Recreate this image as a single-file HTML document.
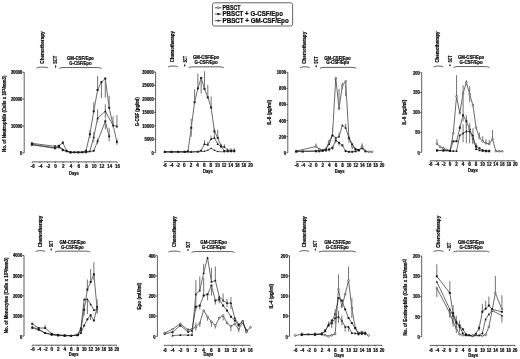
<!DOCTYPE html>
<html lang="en"><head><meta charset="utf-8"><title>Cytokine levels and cell counts after PBSCT</title>
<style>html,body{margin:0;padding:0;background:#fff}body{width:520px;height:359px;overflow:hidden}svg{display:block}.ax{fill:none;stroke:#1a1a1a;stroke-width:.7}.br{fill:none;stroke:#333;stroke-width:.8}.ln{fill:none;stroke:#1a1a1a;stroke-width:.65;stroke-linejoin:round}.eb{fill:none;stroke:#7a7a7a;stroke-width:1.05}text{fill:#0a0a0a;stroke:#0a0a0a;stroke-width:.22}</style></head><body>
<svg width="520" height="359" viewBox="0 0 520 359" font-family="Liberation Sans, sans-serif" font-weight="bold">
<rect width="520" height="359" fill="#fff"/>
<g id="legend">
<rect x="212.5" y="2.8" width="80.1" height="23.2" rx="2" fill="#fff" stroke="#666" stroke-width="1"/>
<path d="M214.9 7.75H221.4" class="ax"/>
<circle cx="218.3" cy="7.75" r="0.9" fill="#fff" stroke="#1a1a1a" stroke-width=".55"/>
<text x="222.5" y="10" font-size="6.3" text-anchor="start" textLength="18" lengthAdjust="spacingAndGlyphs">PBSCT</text>
<path d="M214.9 14.1H221.4" class="ax"/>
<rect x="217.3" y="13.1" width="2" height="2" fill="#1a1a1a"/>
<text x="222.5" y="16.35" font-size="6.3" text-anchor="start" textLength="60.4" lengthAdjust="spacingAndGlyphs">PBSCT + G-CSF/Epo</text>
<path d="M214.9 20.55H221.4" class="ax"/>
<path d="M218.3 19.3L219.5 21.55L217.1 21.55Z" fill="#1a1a1a"/>
<text x="222.5" y="22.8" font-size="6.3" text-anchor="start" textLength="66.2" lengthAdjust="spacingAndGlyphs">PBSCT + GM-CSF/Epo</text>
</g>
<g id="p1">
<path d="M24.2 72.3V152.8M22.7 72.3H24.2M22.7 99.1H24.2M22.7 126H24.2M22.7 152.8H24.2" class="ax"/>
<text x="22.4" y="74.2" font-size="4.6" text-anchor="end" textLength="11.5" lengthAdjust="spacingAndGlyphs">30000</text>
<text x="22.4" y="101" font-size="4.6" text-anchor="end" textLength="11.5" lengthAdjust="spacingAndGlyphs">20000</text>
<text x="22.4" y="127.9" font-size="4.6" text-anchor="end" textLength="11.5" lengthAdjust="spacingAndGlyphs">10000</text>
<text x="22.4" y="155.4" font-size="4.6" text-anchor="end" textLength="2.3" lengthAdjust="spacingAndGlyphs">0</text>
<path d="M32.2 161.9H117.2M32.2 161.9v1.1M39.93 161.9v1.1M47.65 161.9v1.1M55.38 161.9v1.1M63.11 161.9v1.1M70.84 161.9v1.1M78.56 161.9v1.1M86.29 161.9v1.1M94.02 161.9v1.1M101.75 161.9v1.1M109.47 161.9v1.1M117.2 161.9v1.1" class="ax"/>
<text x="32.7" y="167.7" font-size="4.6" text-anchor="middle" textLength="3.85" lengthAdjust="spacingAndGlyphs">-6</text>
<text x="40.43" y="167.7" font-size="4.6" text-anchor="middle" textLength="3.85" lengthAdjust="spacingAndGlyphs">-4</text>
<text x="48.15" y="167.7" font-size="4.6" text-anchor="middle" textLength="3.85" lengthAdjust="spacingAndGlyphs">-2</text>
<text x="55.58" y="167.7" font-size="4.6" text-anchor="middle">0</text>
<text x="63.31" y="167.7" font-size="4.6" text-anchor="middle">2</text>
<text x="71.04" y="167.7" font-size="4.6" text-anchor="middle">4</text>
<text x="78.76" y="167.7" font-size="4.6" text-anchor="middle">6</text>
<text x="86.49" y="167.7" font-size="4.6" text-anchor="middle">8</text>
<text x="94.22" y="167.7" font-size="4.6" text-anchor="middle" textLength="4.7" lengthAdjust="spacingAndGlyphs">10</text>
<text x="101.95" y="167.7" font-size="4.6" text-anchor="middle" textLength="4.7" lengthAdjust="spacingAndGlyphs">12</text>
<text x="109.67" y="167.7" font-size="4.6" text-anchor="middle" textLength="4.7" lengthAdjust="spacingAndGlyphs">14</text>
<text x="117.4" y="167.7" font-size="4.6" text-anchor="middle" textLength="4.7" lengthAdjust="spacingAndGlyphs">16</text>
<text x="74" y="174.9" font-size="4.6" text-anchor="middle" textLength="9.8" lengthAdjust="spacingAndGlyphs">Days</text>
<text x="6" y="152" font-size="4.6" text-anchor="start" transform="rotate(-90 6 152)" textLength="76.4" lengthAdjust="spacingAndGlyphs">No. of Neutrophils (Cells x 10<tspan dy="-0.9" font-size="3.9">3</tspan><tspan dy="0.9">/mm3</tspan>)</text>
<text x="44.05" y="63.7" font-size="4.6" text-anchor="start" transform="rotate(-90 44.05 63.7)" textLength="32.3" lengthAdjust="spacingAndGlyphs">Chemotherapy</text>
<path d="M36.5 68.05Q38.1 67.15 40.5 67.15H44.2Q46.6 67.15 48.2 68.05" class="br"/>
<text x="57.45" y="63.7" font-size="5.1" text-anchor="start" transform="rotate(-90 57.45 63.7)" textLength="7.7" lengthAdjust="spacingAndGlyphs">SCT</text>
<path d="M55.6 64.9V67.6" class="ax"/><path d="M54.7 66.4L55.6 67.9L56.5 66.4Z" fill="#1a1a1a"/>
<text x="66.9" y="59.5" font-size="4.6" text-anchor="start" textLength="26.9" lengthAdjust="spacingAndGlyphs">GM-CSF/Epo</text>
<text x="69.2" y="64.5" font-size="4.6" text-anchor="start" textLength="22.3" lengthAdjust="spacingAndGlyphs">G-CSF/Epo</text>
<path d="M59.2 68.45Q60.8 67.55 63.2 67.55H97.5Q99.9 67.55 101.5 68.45" class="br"/>
<path d="M31.9 143.3L55.08 146.3L58.95 145.8L62.81 142.7L66.67 150.8L70.54 152.3L74.4 152.3L78.26 152.3L82.13 152.3L85.99 150.8L89.85 134.3L93.72 111.3L97.58 90L101.45 82.1L105.31 78.5L109.17 107.8L116.9 141.8" class="ln"/>
<path d="M62.81 141.2V144.2M89.85 130.3V138.3M93.72 102.3V111.3M97.58 76V90M101.45 82.1V98.1M105.31 78.5V97.5M109.17 95.8V107.8M116.9 138.8V144.8" class="eb"/>
<rect x="30.9" y="142.3" width="2" height="2" fill="#1a1a1a"/>
<rect x="54.08" y="145.3" width="2" height="2" fill="#1a1a1a"/>
<rect x="57.95" y="144.8" width="2" height="2" fill="#1a1a1a"/>
<rect x="61.81" y="141.7" width="2" height="2" fill="#1a1a1a"/>
<rect x="65.67" y="149.8" width="2" height="2" fill="#1a1a1a"/>
<rect x="69.54" y="151.3" width="2" height="2" fill="#1a1a1a"/>
<rect x="73.4" y="151.3" width="2" height="2" fill="#1a1a1a"/>
<rect x="77.26" y="151.3" width="2" height="2" fill="#1a1a1a"/>
<rect x="81.13" y="151.3" width="2" height="2" fill="#1a1a1a"/>
<rect x="84.99" y="149.8" width="2" height="2" fill="#1a1a1a"/>
<rect x="88.85" y="133.3" width="2" height="2" fill="#1a1a1a"/>
<rect x="92.72" y="110.3" width="2" height="2" fill="#1a1a1a"/>
<rect x="96.58" y="89" width="2" height="2" fill="#1a1a1a"/>
<rect x="100.45" y="81.1" width="2" height="2" fill="#1a1a1a"/>
<rect x="104.31" y="77.5" width="2" height="2" fill="#1a1a1a"/>
<rect x="108.17" y="106.8" width="2" height="2" fill="#1a1a1a"/>
<rect x="115.9" y="140.8" width="2" height="2" fill="#1a1a1a"/>
<path d="M31.9 144.3L55.08 147.8L58.95 146.3L62.81 149.3L66.67 151.3L70.54 152.3L78.26 152.3L85.99 151.8L89.85 151.3L93.72 137.3L97.58 118.3L105.31 111.3L113.04 125.3L116.9 126.3" class="ln"/>
<path d="M55.08 146.3V149.3M93.72 132.3V142.3M97.58 109.3V122.3M105.31 104.3V118.3M113.04 116.3V127.3M116.9 115.3V128.3" class="eb"/>
<path d="M31.9 143.05L33.1 145.3L30.7 145.3Z" fill="#1a1a1a"/>
<path d="M55.08 146.55L56.28 148.8L53.88 148.8Z" fill="#1a1a1a"/>
<path d="M58.95 145.05L60.15 147.3L57.75 147.3Z" fill="#1a1a1a"/>
<path d="M62.81 148.05L64.01 150.3L61.61 150.3Z" fill="#1a1a1a"/>
<path d="M66.67 150.05L67.87 152.3L65.47 152.3Z" fill="#1a1a1a"/>
<path d="M70.54 151.05L71.74 153.3L69.34 153.3Z" fill="#1a1a1a"/>
<path d="M78.26 151.05L79.46 153.3L77.06 153.3Z" fill="#1a1a1a"/>
<path d="M85.99 150.55L87.19 152.8L84.79 152.8Z" fill="#1a1a1a"/>
<path d="M89.85 150.05L91.05 152.3L88.65 152.3Z" fill="#1a1a1a"/>
<path d="M93.72 136.05L94.92 138.3L92.52 138.3Z" fill="#1a1a1a"/>
<path d="M97.58 117.05L98.78 119.3L96.38 119.3Z" fill="#1a1a1a"/>
<path d="M105.31 110.05L106.51 112.3L104.11 112.3Z" fill="#1a1a1a"/>
<path d="M113.04 124.05L114.24 126.3L111.84 126.3Z" fill="#1a1a1a"/>
<path d="M116.9 125.05L118.1 127.3L115.7 127.3Z" fill="#1a1a1a"/>
<path d="M31.9 144.8L55.08 148.3L58.95 147.3L62.81 150.3L70.54 152.3L85.99 152.3L93.72 150.8L97.58 141.3L105.31 121.3L109.17 136.3" class="ln"/>
<path d="M97.58 138.3V144.3M105.31 119.3V129.3M109.17 128.3V141.3" class="eb"/>
<circle cx="31.9" cy="144.8" r="1.1" fill="#1a1a1a"/>
<circle cx="55.08" cy="148.3" r="1.1" fill="#1a1a1a"/>
<circle cx="58.95" cy="147.3" r="1.1" fill="#1a1a1a"/>
<circle cx="62.81" cy="150.3" r="1.1" fill="#1a1a1a"/>
<circle cx="70.54" cy="152.3" r="1.1" fill="#1a1a1a"/>
<circle cx="85.99" cy="152.3" r="1.1" fill="#1a1a1a"/>
<circle cx="93.72" cy="150.8" r="1.1" fill="#1a1a1a"/>
<circle cx="97.58" cy="141.3" r="1.1" fill="#1a1a1a"/>
<circle cx="105.31" cy="121.3" r="1.1" fill="#1a1a1a"/>
<circle cx="109.17" cy="136.3" r="1.1" fill="#1a1a1a"/>
</g>
<g id="p2">
<path d="M155.6 72V152.7M154.1 72H155.6M154.1 85.45H155.6M154.1 98.9H155.6M154.1 112.35H155.6M154.1 125.8H155.6M154.1 139.25H155.6M154.1 152.7H155.6" class="ax"/>
<text x="153.8" y="73.9" font-size="4.6" text-anchor="end" textLength="11.5" lengthAdjust="spacingAndGlyphs">30000</text>
<text x="153.8" y="87.35" font-size="4.6" text-anchor="end" textLength="11.5" lengthAdjust="spacingAndGlyphs">25000</text>
<text x="153.8" y="100.8" font-size="4.6" text-anchor="end" textLength="11.5" lengthAdjust="spacingAndGlyphs">20000</text>
<text x="153.8" y="114.25" font-size="4.6" text-anchor="end" textLength="11.5" lengthAdjust="spacingAndGlyphs">15000</text>
<text x="153.8" y="127.7" font-size="4.6" text-anchor="end" textLength="11.5" lengthAdjust="spacingAndGlyphs">10000</text>
<text x="153.8" y="141.15" font-size="4.6" text-anchor="end" textLength="9.2" lengthAdjust="spacingAndGlyphs">5000</text>
<text x="153.8" y="155.3" font-size="4.6" text-anchor="end" textLength="2.3" lengthAdjust="spacingAndGlyphs">0</text>
<path d="M164.3 161.5H250.3M164.3 161.5v1.1M170.92 161.5v1.1M177.53 161.5v1.1M184.15 161.5v1.1M190.76 161.5v1.1M197.38 161.5v1.1M203.99 161.5v1.1M210.61 161.5v1.1M217.22 161.5v1.1M223.84 161.5v1.1M230.45 161.5v1.1M237.07 161.5v1.1M243.68 161.5v1.1M250.3 161.5v1.1" class="ax"/>
<text x="164.8" y="166.7" font-size="4.6" text-anchor="middle" textLength="3.85" lengthAdjust="spacingAndGlyphs">-6</text>
<text x="171.42" y="166.7" font-size="4.6" text-anchor="middle" textLength="3.85" lengthAdjust="spacingAndGlyphs">-4</text>
<text x="178.03" y="166.7" font-size="4.6" text-anchor="middle" textLength="3.85" lengthAdjust="spacingAndGlyphs">-2</text>
<text x="184.35" y="166.7" font-size="4.6" text-anchor="middle">0</text>
<text x="190.96" y="166.7" font-size="4.6" text-anchor="middle">2</text>
<text x="197.58" y="166.7" font-size="4.6" text-anchor="middle">4</text>
<text x="204.19" y="166.7" font-size="4.6" text-anchor="middle">6</text>
<text x="210.81" y="166.7" font-size="4.6" text-anchor="middle">8</text>
<text x="217.42" y="166.7" font-size="4.6" text-anchor="middle" textLength="4.7" lengthAdjust="spacingAndGlyphs">10</text>
<text x="224.04" y="166.7" font-size="4.6" text-anchor="middle" textLength="4.7" lengthAdjust="spacingAndGlyphs">12</text>
<text x="230.65" y="166.7" font-size="4.6" text-anchor="middle" textLength="4.7" lengthAdjust="spacingAndGlyphs">14</text>
<text x="237.27" y="166.7" font-size="4.6" text-anchor="middle" textLength="4.7" lengthAdjust="spacingAndGlyphs">16</text>
<text x="243.88" y="166.7" font-size="4.6" text-anchor="middle" textLength="4.7" lengthAdjust="spacingAndGlyphs">18</text>
<text x="250.5" y="166.7" font-size="4.6" text-anchor="middle" textLength="4.7" lengthAdjust="spacingAndGlyphs">20</text>
<text x="208" y="172.9" font-size="4.6" text-anchor="middle" textLength="9.8" lengthAdjust="spacingAndGlyphs">Days</text>
<text x="139.3" y="126.3" font-size="4.6" text-anchor="start" transform="rotate(-90 139.3 126.3)" textLength="29" lengthAdjust="spacingAndGlyphs">G-CSF (pg/ml)</text>
<text x="174.35" y="62.2" font-size="4.6" text-anchor="start" transform="rotate(-90 174.35 62.2)" textLength="31.1" lengthAdjust="spacingAndGlyphs">Chemotherapy</text>
<path d="M168 66.95Q169.6 66.05 172 66.05H174.2Q176.6 66.05 178.2 66.95" class="br"/>
<text x="186.55" y="62.6" font-size="5.1" text-anchor="start" transform="rotate(-90 186.55 62.6)" textLength="6.6" lengthAdjust="spacingAndGlyphs">SCT</text>
<path d="M184.7 63.8V66.4" class="ax"/><path d="M183.8 65.2L184.7 66.7L185.6 65.2Z" fill="#1a1a1a"/>
<text x="193" y="59.4" font-size="4.6" text-anchor="start" textLength="26.2" lengthAdjust="spacingAndGlyphs">GM-CSF/Epo</text>
<text x="194.6" y="64.2" font-size="4.6" text-anchor="start" textLength="23.1" lengthAdjust="spacingAndGlyphs">G-CSF/Epo</text>
<path d="M188.5 67.75Q190.1 66.85 192.5 66.85H219.8Q222.2 66.85 223.8 67.75" class="br"/>
<path d="M164.8 151.8L171.42 151.8L178.03 151.8L184.65 151.8L187.95 151.3L191.26 127.8L194.57 102.2L197.88 88.4L201.18 78L204.49 88.8L207.8 97.4L211.11 107.5L214.42 131.3L217.72 137.8L221.03 145.8L224.34 151.05L227.65 151.3L230.95 151.3L234.26 151.3" class="ln"/>
<path d="M191.26 118.8V136.8M194.57 89.2V102.2M197.88 73.4V88.4M201.18 78V93.5M204.49 71.3V88.8M207.8 84.9V97.4M211.11 96.5V107.5M214.42 128.3V134.3M217.72 129.8V137.8M221.03 143.8V147.8" class="eb"/>
<rect x="163.8" y="150.8" width="2" height="2" fill="#1a1a1a"/>
<rect x="170.42" y="150.8" width="2" height="2" fill="#1a1a1a"/>
<rect x="177.03" y="150.8" width="2" height="2" fill="#1a1a1a"/>
<rect x="183.65" y="150.8" width="2" height="2" fill="#1a1a1a"/>
<rect x="186.95" y="150.3" width="2" height="2" fill="#1a1a1a"/>
<rect x="190.26" y="126.8" width="2" height="2" fill="#1a1a1a"/>
<rect x="193.57" y="101.2" width="2" height="2" fill="#1a1a1a"/>
<rect x="196.88" y="87.4" width="2" height="2" fill="#1a1a1a"/>
<rect x="200.18" y="77" width="2" height="2" fill="#1a1a1a"/>
<rect x="203.49" y="87.8" width="2" height="2" fill="#1a1a1a"/>
<rect x="206.8" y="96.4" width="2" height="2" fill="#1a1a1a"/>
<rect x="210.11" y="106.5" width="2" height="2" fill="#1a1a1a"/>
<rect x="213.42" y="130.3" width="2" height="2" fill="#1a1a1a"/>
<rect x="216.72" y="136.8" width="2" height="2" fill="#1a1a1a"/>
<rect x="220.03" y="144.8" width="2" height="2" fill="#1a1a1a"/>
<rect x="223.34" y="150.05" width="2" height="2" fill="#1a1a1a"/>
<rect x="226.65" y="150.3" width="2" height="2" fill="#1a1a1a"/>
<rect x="229.95" y="150.3" width="2" height="2" fill="#1a1a1a"/>
<rect x="233.26" y="150.3" width="2" height="2" fill="#1a1a1a"/>
<path d="M164.8 151.8L171.42 151.8L184.65 151.8L191.26 151.8L197.88 151.6L201.18 150.3L204.49 144.05L207.8 144.8L211.11 139.05L214.42 137.8L217.72 144.05L221.03 146.55L224.34 146.8L227.65 150.3L230.95 150.3L234.26 150.3" class="ln"/>
<path d="M204.49 140.05V144.05M207.8 141.8V144.8M211.11 135.55V139.05M214.42 134.8V137.8M217.72 142.05V144.05M221.03 144.55V146.55M224.34 144.3V146.8M227.65 148.3V150.3M230.95 148.3V150.3M234.26 148.3V150.3" class="eb"/>
<path d="M164.8 150.55L166 152.8L163.6 152.8Z" fill="#1a1a1a"/>
<path d="M171.42 150.55L172.62 152.8L170.22 152.8Z" fill="#1a1a1a"/>
<path d="M184.65 150.55L185.85 152.8L183.45 152.8Z" fill="#1a1a1a"/>
<path d="M191.26 150.55L192.46 152.8L190.06 152.8Z" fill="#1a1a1a"/>
<path d="M197.88 150.35L199.08 152.6L196.68 152.6Z" fill="#1a1a1a"/>
<path d="M201.18 149.05L202.38 151.3L199.98 151.3Z" fill="#1a1a1a"/>
<path d="M204.49 142.8L205.69 145.05L203.29 145.05Z" fill="#1a1a1a"/>
<path d="M207.8 143.55L209 145.8L206.6 145.8Z" fill="#1a1a1a"/>
<path d="M211.11 137.8L212.31 140.05L209.91 140.05Z" fill="#1a1a1a"/>
<path d="M214.42 136.55L215.62 138.8L213.22 138.8Z" fill="#1a1a1a"/>
<path d="M217.72 142.8L218.92 145.05L216.52 145.05Z" fill="#1a1a1a"/>
<path d="M221.03 145.3L222.23 147.55L219.83 147.55Z" fill="#1a1a1a"/>
<path d="M224.34 145.55L225.54 147.8L223.14 147.8Z" fill="#1a1a1a"/>
<path d="M227.65 149.05L228.85 151.3L226.45 151.3Z" fill="#1a1a1a"/>
<path d="M230.95 149.05L232.15 151.3L229.75 151.3Z" fill="#1a1a1a"/>
<path d="M234.26 149.05L235.46 151.3L233.06 151.3Z" fill="#1a1a1a"/>
<path d="M164.8 152L171.42 152L184.65 152L191.26 152L197.88 151.8L204.49 151.3L207.8 150.3L211.11 148.3L214.42 150.3L217.72 151.6L224.34 151.8" class="ln"/>
<circle cx="164.8" cy="152" r="0.75" fill="#1a1a1a"/>
<circle cx="171.42" cy="152" r="0.75" fill="#1a1a1a"/>
<circle cx="184.65" cy="152" r="0.75" fill="#1a1a1a"/>
<circle cx="191.26" cy="152" r="0.75" fill="#1a1a1a"/>
<circle cx="197.88" cy="151.8" r="0.75" fill="#1a1a1a"/>
<circle cx="204.49" cy="151.3" r="0.75" fill="#1a1a1a"/>
<circle cx="207.8" cy="150.3" r="0.75" fill="#1a1a1a"/>
<circle cx="211.11" cy="148.3" r="0.75" fill="#1a1a1a"/>
<circle cx="214.42" cy="150.3" r="0.75" fill="#1a1a1a"/>
<circle cx="217.72" cy="151.6" r="0.75" fill="#1a1a1a"/>
<circle cx="224.34" cy="151.8" r="0.75" fill="#1a1a1a"/>
</g>
<g id="p3">
<path d="M287.8 72.3V152.8M286.3 72.3H287.8M286.3 88.4H287.8M286.3 104.5H287.8M286.3 120.6H287.8M286.3 136.7H287.8M286.3 152.8H287.8" class="ax"/>
<text x="286" y="74.2" font-size="4.6" text-anchor="end" textLength="9.2" lengthAdjust="spacingAndGlyphs">1000</text>
<text x="286" y="90.3" font-size="4.6" text-anchor="end" textLength="6.9" lengthAdjust="spacingAndGlyphs">800</text>
<text x="286" y="106.4" font-size="4.6" text-anchor="end" textLength="6.9" lengthAdjust="spacingAndGlyphs">600</text>
<text x="286" y="122.5" font-size="4.6" text-anchor="end" textLength="6.9" lengthAdjust="spacingAndGlyphs">400</text>
<text x="286" y="138.6" font-size="4.6" text-anchor="end" textLength="6.9" lengthAdjust="spacingAndGlyphs">200</text>
<text x="286" y="155.4" font-size="4.6" text-anchor="end" textLength="2.3" lengthAdjust="spacingAndGlyphs">0</text>
<path d="M296.2 161.5H381.9M296.2 161.5v1.1M302.79 161.5v1.1M309.38 161.5v1.1M315.98 161.5v1.1M322.57 161.5v1.1M329.16 161.5v1.1M335.75 161.5v1.1M342.35 161.5v1.1M348.94 161.5v1.1M355.53 161.5v1.1M362.12 161.5v1.1M368.72 161.5v1.1M375.31 161.5v1.1M381.9 161.5v1.1" class="ax"/>
<text x="296.7" y="166.7" font-size="4.6" text-anchor="middle" textLength="3.85" lengthAdjust="spacingAndGlyphs">-6</text>
<text x="303.29" y="166.7" font-size="4.6" text-anchor="middle" textLength="3.85" lengthAdjust="spacingAndGlyphs">-4</text>
<text x="309.88" y="166.7" font-size="4.6" text-anchor="middle" textLength="3.85" lengthAdjust="spacingAndGlyphs">-2</text>
<text x="316.18" y="166.7" font-size="4.6" text-anchor="middle">0</text>
<text x="322.77" y="166.7" font-size="4.6" text-anchor="middle">2</text>
<text x="329.36" y="166.7" font-size="4.6" text-anchor="middle">4</text>
<text x="335.95" y="166.7" font-size="4.6" text-anchor="middle">6</text>
<text x="342.55" y="166.7" font-size="4.6" text-anchor="middle">8</text>
<text x="349.14" y="166.7" font-size="4.6" text-anchor="middle" textLength="4.7" lengthAdjust="spacingAndGlyphs">10</text>
<text x="355.73" y="166.7" font-size="4.6" text-anchor="middle" textLength="4.7" lengthAdjust="spacingAndGlyphs">12</text>
<text x="362.32" y="166.7" font-size="4.6" text-anchor="middle" textLength="4.7" lengthAdjust="spacingAndGlyphs">14</text>
<text x="368.92" y="166.7" font-size="4.6" text-anchor="middle" textLength="4.7" lengthAdjust="spacingAndGlyphs">16</text>
<text x="375.51" y="166.7" font-size="4.6" text-anchor="middle" textLength="4.7" lengthAdjust="spacingAndGlyphs">18</text>
<text x="382.1" y="166.7" font-size="4.6" text-anchor="middle" textLength="4.7" lengthAdjust="spacingAndGlyphs">20</text>
<text x="339.75" y="172.9" font-size="4.6" text-anchor="middle" textLength="9.8" lengthAdjust="spacingAndGlyphs">Days</text>
<text x="271" y="124.8" font-size="4.6" text-anchor="start" transform="rotate(-90 271 124.8)" textLength="24.8" lengthAdjust="spacingAndGlyphs">IL-8 (pg/ml)</text>
<text x="305.85" y="63.7" font-size="4.6" text-anchor="start" transform="rotate(-90 305.85 63.7)" textLength="31.9" lengthAdjust="spacingAndGlyphs">Chemotherapy</text>
<path d="M300 67.75Q301.6 66.85 304 66.85H305.7Q308.1 66.85 309.7 67.75" class="br"/>
<text x="318.05" y="63.7" font-size="5.1" text-anchor="start" transform="rotate(-90 318.05 63.7)" textLength="7.2" lengthAdjust="spacingAndGlyphs">SCT</text>
<path d="M316.2 64.9V67.1" class="ax"/><path d="M315.3 65.9L316.2 67.4L317.1 65.9Z" fill="#1a1a1a"/>
<text x="324.2" y="59.6" font-size="4.6" text-anchor="start" textLength="26.6" lengthAdjust="spacingAndGlyphs">GM-CSF/Epo</text>
<text x="326.2" y="64.3" font-size="4.6" text-anchor="start" textLength="23" lengthAdjust="spacingAndGlyphs">G-CSF/Epo</text>
<path d="M320 68.25Q321.6 67.35 324 67.35H352.2Q354.6 67.35 356.2 68.25" class="br"/>
<path d="M296.2 151.05L315.98 146.55L319.27 149.05L322.57 150.3L325.87 149.05L329.16 141.3L332.46 135.3L335.75 78.1L339.05 108.8L342.35 85.6L345.64 81.3L348.94 137.8L352.23 146.3L355.53 149.05L358.83 150.3L362.12 146.3L365.42 151.05L368.72 151.8L372.01 151.8" class="ln"/>
<path d="M315.98 143.55V146.55M339.05 88.8V108.8M342.35 82.6V89.6M345.64 81.3V96.3M348.94 137.8V142.8M352.23 146.3V149.3M362.12 143.3V146.3" class="eb"/>
<circle cx="296.2" cy="151.05" r="0.9" fill="#fff" stroke="#1a1a1a" stroke-width=".55"/>
<circle cx="315.98" cy="146.55" r="0.9" fill="#fff" stroke="#1a1a1a" stroke-width=".55"/>
<circle cx="319.27" cy="149.05" r="0.9" fill="#fff" stroke="#1a1a1a" stroke-width=".55"/>
<circle cx="322.57" cy="150.3" r="0.9" fill="#fff" stroke="#1a1a1a" stroke-width=".55"/>
<circle cx="325.87" cy="149.05" r="0.9" fill="#fff" stroke="#1a1a1a" stroke-width=".55"/>
<circle cx="329.16" cy="141.3" r="0.9" fill="#fff" stroke="#1a1a1a" stroke-width=".55"/>
<circle cx="332.46" cy="135.3" r="0.9" fill="#fff" stroke="#1a1a1a" stroke-width=".55"/>
<circle cx="335.75" cy="78.1" r="0.9" fill="#fff" stroke="#1a1a1a" stroke-width=".55"/>
<circle cx="339.05" cy="108.8" r="0.9" fill="#fff" stroke="#1a1a1a" stroke-width=".55"/>
<circle cx="342.35" cy="85.6" r="0.9" fill="#fff" stroke="#1a1a1a" stroke-width=".55"/>
<circle cx="345.64" cy="81.3" r="0.9" fill="#fff" stroke="#1a1a1a" stroke-width=".55"/>
<circle cx="348.94" cy="137.8" r="0.9" fill="#fff" stroke="#1a1a1a" stroke-width=".55"/>
<circle cx="352.23" cy="146.3" r="0.9" fill="#fff" stroke="#1a1a1a" stroke-width=".55"/>
<circle cx="355.53" cy="149.05" r="0.9" fill="#fff" stroke="#1a1a1a" stroke-width=".55"/>
<circle cx="358.83" cy="150.3" r="0.9" fill="#fff" stroke="#1a1a1a" stroke-width=".55"/>
<circle cx="362.12" cy="146.3" r="0.9" fill="#fff" stroke="#1a1a1a" stroke-width=".55"/>
<circle cx="365.42" cy="151.05" r="0.9" fill="#fff" stroke="#1a1a1a" stroke-width=".55"/>
<circle cx="368.72" cy="151.8" r="0.9" fill="#fff" stroke="#1a1a1a" stroke-width=".55"/>
<circle cx="372.01" cy="151.8" r="0.9" fill="#fff" stroke="#1a1a1a" stroke-width=".55"/>
<path d="M296.2 151.3L315.98 150.8L322.57 150.3L325.87 149.3L329.16 144.05L332.46 135.3L335.75 137.8L339.05 136.55L342.35 125.3L345.64 127.8L348.94 137.8L352.23 144.05L355.53 149.05L358.83 149.8L362.12 148.3L365.42 151.3" class="ln"/>
<path d="M332.46 127.3V135.3M339.05 132.55V136.55M345.64 123.8V127.8" class="eb"/>
<path d="M296.2 150.05L297.4 152.3L295 152.3Z" fill="#1a1a1a"/>
<path d="M315.98 149.55L317.18 151.8L314.78 151.8Z" fill="#1a1a1a"/>
<path d="M322.57 149.05L323.77 151.3L321.37 151.3Z" fill="#1a1a1a"/>
<path d="M325.87 148.05L327.07 150.3L324.67 150.3Z" fill="#1a1a1a"/>
<path d="M329.16 142.8L330.36 145.05L327.96 145.05Z" fill="#1a1a1a"/>
<path d="M332.46 134.05L333.66 136.3L331.26 136.3Z" fill="#1a1a1a"/>
<path d="M335.75 136.55L336.95 138.8L334.55 138.8Z" fill="#1a1a1a"/>
<path d="M339.05 135.3L340.25 137.55L337.85 137.55Z" fill="#1a1a1a"/>
<path d="M342.35 124.05L343.55 126.3L341.15 126.3Z" fill="#1a1a1a"/>
<path d="M345.64 126.55L346.84 128.8L344.44 128.8Z" fill="#1a1a1a"/>
<path d="M348.94 136.55L350.14 138.8L347.74 138.8Z" fill="#1a1a1a"/>
<path d="M352.23 142.8L353.43 145.05L351.03 145.05Z" fill="#1a1a1a"/>
<path d="M355.53 147.8L356.73 150.05L354.33 150.05Z" fill="#1a1a1a"/>
<path d="M358.83 148.55L360.03 150.8L357.63 150.8Z" fill="#1a1a1a"/>
<path d="M362.12 147.05L363.32 149.3L360.92 149.3Z" fill="#1a1a1a"/>
<path d="M365.42 150.05L366.62 152.3L364.22 152.3Z" fill="#1a1a1a"/>
<path d="M296.2 151.6L302.79 151.6L315.98 151.3L319.27 151.3L322.57 150.8L325.87 150.3L329.16 149.55L332.46 147.8L335.75 140.3L339.05 142.8L342.35 145.3L345.64 151.05L348.94 151.8L352.23 151.8L355.53 151.3L358.83 150.3" class="ln"/>
<path d="M325.87 148.8V151.8M329.16 147.55V151.55M332.46 145.8V149.8M335.75 140.3V143.3M339.05 142.8V145.8" class="eb"/>
<rect x="295.2" y="150.6" width="2" height="2" fill="#1a1a1a"/>
<rect x="301.79" y="150.6" width="2" height="2" fill="#1a1a1a"/>
<rect x="314.98" y="150.3" width="2" height="2" fill="#1a1a1a"/>
<rect x="318.27" y="150.3" width="2" height="2" fill="#1a1a1a"/>
<rect x="321.57" y="149.8" width="2" height="2" fill="#1a1a1a"/>
<rect x="324.87" y="149.3" width="2" height="2" fill="#1a1a1a"/>
<rect x="328.16" y="148.55" width="2" height="2" fill="#1a1a1a"/>
<rect x="331.46" y="146.8" width="2" height="2" fill="#1a1a1a"/>
<rect x="334.75" y="139.3" width="2" height="2" fill="#1a1a1a"/>
<rect x="338.05" y="141.8" width="2" height="2" fill="#1a1a1a"/>
<rect x="341.35" y="144.3" width="2" height="2" fill="#1a1a1a"/>
<rect x="344.64" y="150.05" width="2" height="2" fill="#1a1a1a"/>
<rect x="347.94" y="150.8" width="2" height="2" fill="#1a1a1a"/>
<rect x="351.23" y="150.8" width="2" height="2" fill="#1a1a1a"/>
<rect x="354.53" y="150.3" width="2" height="2" fill="#1a1a1a"/>
<rect x="357.83" y="149.3" width="2" height="2" fill="#1a1a1a"/>
</g>
<g id="p4">
<path d="M421.7 72.6V152.3M420.2 72.6H421.7M420.2 92.5H421.7M420.2 112.4H421.7M420.2 132.3H421.7M420.2 152.3H421.7" class="ax"/>
<text x="419.9" y="74.5" font-size="4.6" text-anchor="end" textLength="6.9" lengthAdjust="spacingAndGlyphs">200</text>
<text x="419.9" y="94.4" font-size="4.6" text-anchor="end" textLength="6.9" lengthAdjust="spacingAndGlyphs">150</text>
<text x="419.9" y="114.3" font-size="4.6" text-anchor="end" textLength="6.9" lengthAdjust="spacingAndGlyphs">100</text>
<text x="419.9" y="134.2" font-size="4.6" text-anchor="end" textLength="4.6" lengthAdjust="spacingAndGlyphs">50</text>
<text x="419.9" y="154.9" font-size="4.6" text-anchor="end" textLength="2.3" lengthAdjust="spacingAndGlyphs">0</text>
<path d="M430.1 160.8H515.1M430.1 160.8v1.1M436.64 160.8v1.1M443.18 160.8v1.1M449.72 160.8v1.1M456.25 160.8v1.1M462.79 160.8v1.1M469.33 160.8v1.1M475.87 160.8v1.1M482.41 160.8v1.1M488.95 160.8v1.1M495.48 160.8v1.1M502.02 160.8v1.1M508.56 160.8v1.1M515.1 160.8v1.1" class="ax"/>
<text x="430.6" y="166.4" font-size="4.6" text-anchor="middle" textLength="3.85" lengthAdjust="spacingAndGlyphs">-6</text>
<text x="437.14" y="166.4" font-size="4.6" text-anchor="middle" textLength="3.85" lengthAdjust="spacingAndGlyphs">-4</text>
<text x="443.68" y="166.4" font-size="4.6" text-anchor="middle" textLength="3.85" lengthAdjust="spacingAndGlyphs">-2</text>
<text x="449.92" y="166.4" font-size="4.6" text-anchor="middle">0</text>
<text x="456.45" y="166.4" font-size="4.6" text-anchor="middle">2</text>
<text x="462.99" y="166.4" font-size="4.6" text-anchor="middle">4</text>
<text x="469.53" y="166.4" font-size="4.6" text-anchor="middle">6</text>
<text x="476.07" y="166.4" font-size="4.6" text-anchor="middle">8</text>
<text x="482.61" y="166.4" font-size="4.6" text-anchor="middle" textLength="4.7" lengthAdjust="spacingAndGlyphs">10</text>
<text x="489.15" y="166.4" font-size="4.6" text-anchor="middle" textLength="4.7" lengthAdjust="spacingAndGlyphs">12</text>
<text x="495.68" y="166.4" font-size="4.6" text-anchor="middle" textLength="4.7" lengthAdjust="spacingAndGlyphs">14</text>
<text x="502.22" y="166.4" font-size="4.6" text-anchor="middle" textLength="4.7" lengthAdjust="spacingAndGlyphs">16</text>
<text x="508.76" y="166.4" font-size="4.6" text-anchor="middle" textLength="4.7" lengthAdjust="spacingAndGlyphs">18</text>
<text x="515.3" y="166.4" font-size="4.6" text-anchor="middle" textLength="4.7" lengthAdjust="spacingAndGlyphs">20</text>
<text x="472.9" y="172.4" font-size="4.6" text-anchor="middle" textLength="9.8" lengthAdjust="spacingAndGlyphs">Days</text>
<text x="406.5" y="124.8" font-size="4.6" text-anchor="start" transform="rotate(-90 406.5 124.8)" textLength="25" lengthAdjust="spacingAndGlyphs">IL-6 (pg/ml)</text>
<text x="439.45" y="62.6" font-size="4.6" text-anchor="start" transform="rotate(-90 439.45 62.6)" textLength="31.2" lengthAdjust="spacingAndGlyphs">Chemotherapy</text>
<path d="M433.5 66.95Q435.1 66.05 437.5 66.05H439.2Q441.6 66.05 443.2 66.95" class="br"/>
<text x="451.85" y="62.6" font-size="5.1" text-anchor="start" transform="rotate(-90 451.85 62.6)" textLength="6.9" lengthAdjust="spacingAndGlyphs">SCT</text>
<path d="M450 63.8V66.1" class="ax"/><path d="M449.1 64.9L450 66.4L450.9 64.9Z" fill="#1a1a1a"/>
<text x="458" y="59" font-size="4.6" text-anchor="start" textLength="26.2" lengthAdjust="spacingAndGlyphs">GM-CSF/Epo</text>
<text x="459.6" y="63.6" font-size="4.6" text-anchor="start" textLength="23.1" lengthAdjust="spacingAndGlyphs">G-CSF/Epo</text>
<path d="M453.5 67.45Q455.1 66.55 457.5 66.55H485.3Q487.7 66.55 489.3 67.45" class="br"/>
<path d="M436.94 143.8L440.21 146.8L443.48 148.6L446.75 149.8L450.02 150.8L453.28 133.3L456.55 96.3L459.82 113.3L463.09 93.3L466.36 82.3L469.63 94.3L472.9 105.3L476.17 127.8L479.44 137.8L482.71 141.3L485.98 143.3L489.25 144.05L492.52 139.05L495.78 151.05L499.05 151.3L502.32 151.3" class="ln"/>
<path d="M436.94 139.3V143.8M443.48 146.6V148.6M456.55 75.3V98.3M463.09 85.3V101.3M466.36 80.3V85.3M469.63 86.3V102.3M479.44 132.8V137.8M482.71 136.3V141.3M485.98 139.3V143.3M489.25 140.05V144.05M492.52 130.05V139.05" class="eb"/>
<circle cx="436.94" cy="143.8" r="0.9" fill="#fff" stroke="#1a1a1a" stroke-width=".55"/>
<circle cx="440.21" cy="146.8" r="0.9" fill="#fff" stroke="#1a1a1a" stroke-width=".55"/>
<circle cx="443.48" cy="148.6" r="0.9" fill="#fff" stroke="#1a1a1a" stroke-width=".55"/>
<circle cx="446.75" cy="149.8" r="0.9" fill="#fff" stroke="#1a1a1a" stroke-width=".55"/>
<circle cx="450.02" cy="150.8" r="0.9" fill="#fff" stroke="#1a1a1a" stroke-width=".55"/>
<circle cx="453.28" cy="133.3" r="0.9" fill="#fff" stroke="#1a1a1a" stroke-width=".55"/>
<circle cx="456.55" cy="96.3" r="0.9" fill="#fff" stroke="#1a1a1a" stroke-width=".55"/>
<circle cx="459.82" cy="113.3" r="0.9" fill="#fff" stroke="#1a1a1a" stroke-width=".55"/>
<circle cx="463.09" cy="93.3" r="0.9" fill="#fff" stroke="#1a1a1a" stroke-width=".55"/>
<circle cx="466.36" cy="82.3" r="0.9" fill="#fff" stroke="#1a1a1a" stroke-width=".55"/>
<circle cx="469.63" cy="94.3" r="0.9" fill="#fff" stroke="#1a1a1a" stroke-width=".55"/>
<circle cx="472.9" cy="105.3" r="0.9" fill="#fff" stroke="#1a1a1a" stroke-width=".55"/>
<circle cx="476.17" cy="127.8" r="0.9" fill="#fff" stroke="#1a1a1a" stroke-width=".55"/>
<circle cx="479.44" cy="137.8" r="0.9" fill="#fff" stroke="#1a1a1a" stroke-width=".55"/>
<circle cx="482.71" cy="141.3" r="0.9" fill="#fff" stroke="#1a1a1a" stroke-width=".55"/>
<circle cx="485.98" cy="143.3" r="0.9" fill="#fff" stroke="#1a1a1a" stroke-width=".55"/>
<circle cx="489.25" cy="144.05" r="0.9" fill="#fff" stroke="#1a1a1a" stroke-width=".55"/>
<circle cx="492.52" cy="139.05" r="0.9" fill="#fff" stroke="#1a1a1a" stroke-width=".55"/>
<circle cx="495.78" cy="151.05" r="0.9" fill="#fff" stroke="#1a1a1a" stroke-width=".55"/>
<circle cx="499.05" cy="151.3" r="0.9" fill="#fff" stroke="#1a1a1a" stroke-width=".55"/>
<circle cx="502.32" cy="151.3" r="0.9" fill="#fff" stroke="#1a1a1a" stroke-width=".55"/>
<path d="M436.94 150.3L443.48 150.3L450.02 150.8L453.28 141.3L456.55 141.3L459.82 127.8L463.09 115.3L466.36 121.3L469.63 129.3L472.9 139.05L476.17 146.3L479.44 148.3L482.71 150.3L485.98 150.8L489.25 150.8" class="ln"/>
<path d="M459.82 124.8V130.8M463.09 101.3V121.3M466.36 115.3V127.3M469.63 124.3V134.3M472.9 135.05V143.05M476.17 143.3V149.3" class="eb"/>
<rect x="435.94" y="149.3" width="2" height="2" fill="#1a1a1a"/>
<rect x="442.48" y="149.3" width="2" height="2" fill="#1a1a1a"/>
<rect x="449.02" y="149.8" width="2" height="2" fill="#1a1a1a"/>
<rect x="452.28" y="140.3" width="2" height="2" fill="#1a1a1a"/>
<rect x="455.55" y="140.3" width="2" height="2" fill="#1a1a1a"/>
<rect x="458.82" y="126.8" width="2" height="2" fill="#1a1a1a"/>
<rect x="462.09" y="114.3" width="2" height="2" fill="#1a1a1a"/>
<rect x="465.36" y="120.3" width="2" height="2" fill="#1a1a1a"/>
<rect x="468.63" y="128.3" width="2" height="2" fill="#1a1a1a"/>
<rect x="471.9" y="138.05" width="2" height="2" fill="#1a1a1a"/>
<rect x="475.17" y="145.3" width="2" height="2" fill="#1a1a1a"/>
<rect x="478.44" y="147.3" width="2" height="2" fill="#1a1a1a"/>
<rect x="481.71" y="149.3" width="2" height="2" fill="#1a1a1a"/>
<rect x="484.98" y="149.8" width="2" height="2" fill="#1a1a1a"/>
<rect x="488.25" y="149.8" width="2" height="2" fill="#1a1a1a"/>
<path d="M436.94 150.6L443.48 150.6L450.02 151L453.28 151L456.55 151L459.82 135.3L463.09 133.3L466.36 131.3L469.63 131.3L472.9 135.3L476.17 149.05L479.44 150.3L482.71 150.8L485.98 151.3L489.25 151.3" class="ln"/>
<path d="M463.09 124.3V142.3M466.36 123.3V143.3M469.63 123.3V143.3M472.9 128.3V144.3" class="eb"/>
<path d="M436.94 149.35L438.14 151.6L435.74 151.6Z" fill="#1a1a1a"/>
<path d="M443.48 149.35L444.68 151.6L442.28 151.6Z" fill="#1a1a1a"/>
<path d="M450.02 149.75L451.22 152L448.82 152Z" fill="#1a1a1a"/>
<path d="M453.28 149.75L454.48 152L452.08 152Z" fill="#1a1a1a"/>
<path d="M456.55 149.75L457.75 152L455.35 152Z" fill="#1a1a1a"/>
<path d="M459.82 134.05L461.02 136.3L458.62 136.3Z" fill="#1a1a1a"/>
<path d="M463.09 132.05L464.29 134.3L461.89 134.3Z" fill="#1a1a1a"/>
<path d="M466.36 130.05L467.56 132.3L465.16 132.3Z" fill="#1a1a1a"/>
<path d="M469.63 130.05L470.83 132.3L468.43 132.3Z" fill="#1a1a1a"/>
<path d="M472.9 134.05L474.1 136.3L471.7 136.3Z" fill="#1a1a1a"/>
<path d="M476.17 147.8L477.37 150.05L474.97 150.05Z" fill="#1a1a1a"/>
<path d="M479.44 149.05L480.64 151.3L478.24 151.3Z" fill="#1a1a1a"/>
<path d="M482.71 149.55L483.91 151.8L481.51 151.8Z" fill="#1a1a1a"/>
<path d="M485.98 150.05L487.18 152.3L484.78 152.3Z" fill="#1a1a1a"/>
<path d="M489.25 150.05L490.45 152.3L488.05 152.3Z" fill="#1a1a1a"/>
</g>
<g id="p5">
<path d="M24 255.5V336.1M22.5 255.5H24M22.5 275.65H24M22.5 295.8H24M22.5 315.95H24M22.5 336.1H24" class="ax"/>
<text x="22.2" y="257.4" font-size="4.6" text-anchor="end" textLength="9.2" lengthAdjust="spacingAndGlyphs">4000</text>
<text x="22.2" y="277.55" font-size="4.6" text-anchor="end" textLength="9.2" lengthAdjust="spacingAndGlyphs">3000</text>
<text x="22.2" y="297.7" font-size="4.6" text-anchor="end" textLength="9.2" lengthAdjust="spacingAndGlyphs">2000</text>
<text x="22.2" y="317.85" font-size="4.6" text-anchor="end" textLength="9.2" lengthAdjust="spacingAndGlyphs">1000</text>
<text x="22.2" y="338.7" font-size="4.6" text-anchor="end" textLength="2.3" lengthAdjust="spacingAndGlyphs">0</text>
<path d="M32.2 345.2H116.6M32.2 345.2v1.1M38.69 345.2v1.1M45.18 345.2v1.1M51.68 345.2v1.1M58.17 345.2v1.1M64.66 345.2v1.1M71.15 345.2v1.1M77.65 345.2v1.1M84.14 345.2v1.1M90.63 345.2v1.1M97.12 345.2v1.1M103.62 345.2v1.1M110.11 345.2v1.1M116.6 345.2v1.1" class="ax"/>
<text x="32.7" y="351.2" font-size="4.6" text-anchor="middle" textLength="3.85" lengthAdjust="spacingAndGlyphs">-6</text>
<text x="39.19" y="351.2" font-size="4.6" text-anchor="middle" textLength="3.85" lengthAdjust="spacingAndGlyphs">-4</text>
<text x="45.68" y="351.2" font-size="4.6" text-anchor="middle" textLength="3.85" lengthAdjust="spacingAndGlyphs">-2</text>
<text x="51.88" y="351.2" font-size="4.6" text-anchor="middle">0</text>
<text x="58.37" y="351.2" font-size="4.6" text-anchor="middle">2</text>
<text x="64.86" y="351.2" font-size="4.6" text-anchor="middle">4</text>
<text x="71.35" y="351.2" font-size="4.6" text-anchor="middle">6</text>
<text x="77.85" y="351.2" font-size="4.6" text-anchor="middle">8</text>
<text x="84.34" y="351.2" font-size="4.6" text-anchor="middle" textLength="4.7" lengthAdjust="spacingAndGlyphs">10</text>
<text x="90.83" y="351.2" font-size="4.6" text-anchor="middle" textLength="4.7" lengthAdjust="spacingAndGlyphs">12</text>
<text x="97.32" y="351.2" font-size="4.6" text-anchor="middle" textLength="4.7" lengthAdjust="spacingAndGlyphs">14</text>
<text x="103.82" y="351.2" font-size="4.6" text-anchor="middle" textLength="4.7" lengthAdjust="spacingAndGlyphs">16</text>
<text x="110.31" y="351.2" font-size="4.6" text-anchor="middle" textLength="4.7" lengthAdjust="spacingAndGlyphs">18</text>
<text x="116.8" y="351.2" font-size="4.6" text-anchor="middle" textLength="4.7" lengthAdjust="spacingAndGlyphs">20</text>
<text x="73.7" y="356.2" font-size="4.6" text-anchor="middle" textLength="9.8" lengthAdjust="spacingAndGlyphs">Days</text>
<text x="8.2" y="333.2" font-size="4.6" text-anchor="start" transform="rotate(-90 8.2 333.2)" textLength="75.7" lengthAdjust="spacingAndGlyphs">No. of Monocytes (Cells x 10<tspan dy="-0.9" font-size="3.9">3</tspan><tspan dy="0.9">/mm3</tspan>)</text>
<text x="42.45" y="247.2" font-size="4.6" text-anchor="start" transform="rotate(-90 42.45 247.2)" textLength="31.4" lengthAdjust="spacingAndGlyphs">Chemotherapy</text>
<path d="M35.7 251.55Q37.3 250.65 39.7 250.65H41.2Q43.6 250.65 45.2 251.55" class="br"/>
<text x="53.05" y="247" font-size="5.1" text-anchor="start" transform="rotate(-90 53.05 247)" textLength="6.2" lengthAdjust="spacingAndGlyphs">SCT</text>
<path d="M51.2 248.2V250.4" class="ax"/><path d="M50.3 249.2L51.2 250.7L52.1 249.2Z" fill="#1a1a1a"/>
<text x="59.5" y="244.2" font-size="4.6" text-anchor="start" textLength="26.2" lengthAdjust="spacingAndGlyphs">GM-CSF/Epo</text>
<text x="61" y="248.6" font-size="4.6" text-anchor="start" textLength="22.7" lengthAdjust="spacingAndGlyphs">G-CSF/Epo</text>
<path d="M55 252.05Q56.6 251.15 59 251.15H86.3Q88.7 251.15 90.3 252.05" class="br"/>
<path d="M32.2 323.8L38.69 328.05L45.18 328.05L51.68 333.8L58.17 334.8L64.66 335.3L71.15 335.8L77.65 334.8L80.89 330.3L84.14 309.8L87.38 289.5L90.63 282L93.88 274.3L97.12 308.8" class="ln"/>
<path d="M45.18 325.05V328.05M84.14 303.8V315.8M87.38 279.5V291.5M90.63 269V282M93.88 262.3V280.3" class="eb"/>
<rect x="31.2" y="322.8" width="2" height="2" fill="#1a1a1a"/>
<rect x="37.69" y="327.05" width="2" height="2" fill="#1a1a1a"/>
<rect x="44.18" y="327.05" width="2" height="2" fill="#1a1a1a"/>
<rect x="50.68" y="332.8" width="2" height="2" fill="#1a1a1a"/>
<rect x="57.17" y="333.8" width="2" height="2" fill="#1a1a1a"/>
<rect x="63.66" y="334.3" width="2" height="2" fill="#1a1a1a"/>
<rect x="70.15" y="334.8" width="2" height="2" fill="#1a1a1a"/>
<rect x="76.65" y="333.8" width="2" height="2" fill="#1a1a1a"/>
<rect x="79.89" y="329.3" width="2" height="2" fill="#1a1a1a"/>
<rect x="83.14" y="308.8" width="2" height="2" fill="#1a1a1a"/>
<rect x="86.38" y="288.5" width="2" height="2" fill="#1a1a1a"/>
<rect x="89.63" y="281" width="2" height="2" fill="#1a1a1a"/>
<rect x="92.88" y="273.3" width="2" height="2" fill="#1a1a1a"/>
<rect x="96.12" y="307.8" width="2" height="2" fill="#1a1a1a"/>
<path d="M32.2 326.8L38.69 329.3L45.18 333.05L51.68 334.3L58.17 335.3L64.66 335.6L71.15 335.8L77.65 334.8L80.89 328.05L84.14 299.3L87.38 299.3L90.63 304.3L93.88 310.05L97.12 309.3" class="ln"/>
<path d="M87.38 299.3V314.3M97.12 299.3V313.3" class="eb"/>
<path d="M32.2 325.55L33.4 327.8L31 327.8Z" fill="#1a1a1a"/>
<path d="M38.69 328.05L39.89 330.3L37.49 330.3Z" fill="#1a1a1a"/>
<path d="M45.18 331.8L46.38 334.05L43.98 334.05Z" fill="#1a1a1a"/>
<path d="M51.68 333.05L52.88 335.3L50.48 335.3Z" fill="#1a1a1a"/>
<path d="M58.17 334.05L59.37 336.3L56.97 336.3Z" fill="#1a1a1a"/>
<path d="M64.66 334.35L65.86 336.6L63.46 336.6Z" fill="#1a1a1a"/>
<path d="M71.15 334.55L72.35 336.8L69.95 336.8Z" fill="#1a1a1a"/>
<path d="M77.65 333.55L78.85 335.8L76.45 335.8Z" fill="#1a1a1a"/>
<path d="M80.89 326.8L82.09 329.05L79.69 329.05Z" fill="#1a1a1a"/>
<path d="M84.14 298.05L85.34 300.3L82.94 300.3Z" fill="#1a1a1a"/>
<path d="M87.38 298.05L88.58 300.3L86.18 300.3Z" fill="#1a1a1a"/>
<path d="M90.63 303.05L91.83 305.3L89.43 305.3Z" fill="#1a1a1a"/>
<path d="M93.88 308.8L95.08 311.05L92.68 311.05Z" fill="#1a1a1a"/>
<path d="M97.12 308.05L98.32 310.3L95.92 310.3Z" fill="#1a1a1a"/>
<path d="M32.2 328.05L38.69 329.8L45.18 333.05L51.68 334.8L58.17 335.5L64.66 335.8L77.65 335.3L80.89 333.05L84.14 325.55L87.38 319.3L90.63 315.05L93.88 320.55L97.12 306.8" class="ln"/>
<path d="M90.63 315.05V320.05M97.12 306.8V313.8" class="eb"/>
<circle cx="32.2" cy="328.05" r="1.1" fill="#1a1a1a"/>
<circle cx="38.69" cy="329.8" r="1.1" fill="#1a1a1a"/>
<circle cx="45.18" cy="333.05" r="1.1" fill="#1a1a1a"/>
<circle cx="51.68" cy="334.8" r="1.1" fill="#1a1a1a"/>
<circle cx="58.17" cy="335.5" r="1.1" fill="#1a1a1a"/>
<circle cx="64.66" cy="335.8" r="1.1" fill="#1a1a1a"/>
<circle cx="77.65" cy="335.3" r="1.1" fill="#1a1a1a"/>
<circle cx="80.89" cy="333.05" r="1.1" fill="#1a1a1a"/>
<circle cx="84.14" cy="325.55" r="1.1" fill="#1a1a1a"/>
<circle cx="87.38" cy="319.3" r="1.1" fill="#1a1a1a"/>
<circle cx="90.63" cy="315.05" r="1.1" fill="#1a1a1a"/>
<circle cx="93.88" cy="320.55" r="1.1" fill="#1a1a1a"/>
<circle cx="97.12" cy="306.8" r="1.1" fill="#1a1a1a"/>
</g>
<g id="p6">
<path d="M157.4 255.7V336.3M155.9 255.7H157.4M155.9 275.85H157.4M155.9 296H157.4M155.9 316.15H157.4M155.9 336.3H157.4" class="ax"/>
<text x="155.6" y="257.6" font-size="4.6" text-anchor="end" textLength="6.9" lengthAdjust="spacingAndGlyphs">400</text>
<text x="155.6" y="277.75" font-size="4.6" text-anchor="end" textLength="6.9" lengthAdjust="spacingAndGlyphs">300</text>
<text x="155.6" y="297.9" font-size="4.6" text-anchor="end" textLength="6.9" lengthAdjust="spacingAndGlyphs">200</text>
<text x="155.6" y="318.05" font-size="4.6" text-anchor="end" textLength="6.9" lengthAdjust="spacingAndGlyphs">100</text>
<text x="155.6" y="338.9" font-size="4.6" text-anchor="end" textLength="2.3" lengthAdjust="spacingAndGlyphs">0</text>
<path d="M164.3 345.3H250M164.3 345.3v1.1M172.09 345.3v1.1M179.88 345.3v1.1M187.67 345.3v1.1M195.46 345.3v1.1M203.25 345.3v1.1M211.05 345.3v1.1M218.84 345.3v1.1M226.63 345.3v1.1M234.42 345.3v1.1M242.21 345.3v1.1M250 345.3v1.1" class="ax"/>
<text x="164.8" y="351.7" font-size="4.6" text-anchor="middle" textLength="3.85" lengthAdjust="spacingAndGlyphs">-6</text>
<text x="172.59" y="351.7" font-size="4.6" text-anchor="middle" textLength="3.85" lengthAdjust="spacingAndGlyphs">-4</text>
<text x="180.38" y="351.7" font-size="4.6" text-anchor="middle" textLength="3.85" lengthAdjust="spacingAndGlyphs">-2</text>
<text x="187.87" y="351.7" font-size="4.6" text-anchor="middle">0</text>
<text x="195.66" y="351.7" font-size="4.6" text-anchor="middle">2</text>
<text x="203.45" y="351.7" font-size="4.6" text-anchor="middle">4</text>
<text x="211.25" y="351.7" font-size="4.6" text-anchor="middle">6</text>
<text x="219.04" y="351.7" font-size="4.6" text-anchor="middle">8</text>
<text x="226.83" y="351.7" font-size="4.6" text-anchor="middle" textLength="4.7" lengthAdjust="spacingAndGlyphs">10</text>
<text x="234.62" y="351.7" font-size="4.6" text-anchor="middle" textLength="4.7" lengthAdjust="spacingAndGlyphs">12</text>
<text x="242.41" y="351.7" font-size="4.6" text-anchor="middle" textLength="4.7" lengthAdjust="spacingAndGlyphs">14</text>
<text x="250.2" y="351.7" font-size="4.6" text-anchor="middle" textLength="4.7" lengthAdjust="spacingAndGlyphs">16</text>
<text x="208.35" y="356.2" font-size="4.6" text-anchor="middle" textLength="9.8" lengthAdjust="spacingAndGlyphs">Days</text>
<text x="141" y="309.4" font-size="4.6" text-anchor="start" transform="rotate(-90 141 309.4)" textLength="26.6" lengthAdjust="spacingAndGlyphs">Epo (mU/ml)</text>
<text x="176.05" y="246.9" font-size="4.6" text-anchor="start" transform="rotate(-90 176.05 246.9)" textLength="30.7" lengthAdjust="spacingAndGlyphs">Chemotherapy</text>
<path d="M168.5 252.05Q170.1 251.15 172.5 251.15H176.3Q178.7 251.15 180.3 252.05" class="br"/>
<text x="189.85" y="247.7" font-size="5.1" text-anchor="start" transform="rotate(-90 189.85 247.7)" textLength="6.2" lengthAdjust="spacingAndGlyphs">SCT</text>
<path d="M188 248.9V250.8" class="ax"/><path d="M187.1 249.6L188 251.1L188.9 249.6Z" fill="#1a1a1a"/>
<text x="200.3" y="244.3" font-size="4.6" text-anchor="start" textLength="26.6" lengthAdjust="spacingAndGlyphs">GM-CSF/Epo</text>
<text x="201.8" y="248.7" font-size="4.6" text-anchor="start" textLength="23.6" lengthAdjust="spacingAndGlyphs">G-CSF/Epo</text>
<path d="M191.5 252.45Q193.1 251.55 195.5 251.55H230.6Q233 251.55 234.6 252.45" class="br"/>
<path d="M172.49 335.55L180.28 335.05L188.07 335.05L191.97 335.05L195.86 294.3L199.76 290.55L203.65 273.05L207.55 257.8L211.45 281.8L215.34 280.55L219.24 296.8L223.13 300.55L227.03 303.05L230.92 303.05L234.82 318.05L238.71 324.3L242.61 321.8L246.5 331.8" class="ln"/>
<path d="M195.86 280.3V308.3M199.76 276.55V290.55M203.65 264.05V273.05M211.45 267.8V281.8M215.34 266.55V280.55M219.24 296.8V301.8M223.13 293.55V300.55M227.03 299.05V307.05M230.92 297.05V309.05" class="eb"/>
<path d="M172.49 334.3L173.69 336.55L171.29 336.55Z" fill="#1a1a1a"/>
<path d="M180.28 333.8L181.48 336.05L179.08 336.05Z" fill="#1a1a1a"/>
<path d="M188.07 333.8L189.27 336.05L186.87 336.05Z" fill="#1a1a1a"/>
<path d="M191.97 333.8L193.17 336.05L190.77 336.05Z" fill="#1a1a1a"/>
<path d="M195.86 293.05L197.06 295.3L194.66 295.3Z" fill="#1a1a1a"/>
<path d="M199.76 289.3L200.96 291.55L198.56 291.55Z" fill="#1a1a1a"/>
<path d="M203.65 271.8L204.85 274.05L202.45 274.05Z" fill="#1a1a1a"/>
<path d="M207.55 256.55L208.75 258.8L206.35 258.8Z" fill="#1a1a1a"/>
<path d="M211.45 280.55L212.65 282.8L210.25 282.8Z" fill="#1a1a1a"/>
<path d="M215.34 279.3L216.54 281.55L214.14 281.55Z" fill="#1a1a1a"/>
<path d="M219.24 295.55L220.44 297.8L218.04 297.8Z" fill="#1a1a1a"/>
<path d="M223.13 299.3L224.33 301.55L221.93 301.55Z" fill="#1a1a1a"/>
<path d="M227.03 301.8L228.23 304.05L225.83 304.05Z" fill="#1a1a1a"/>
<path d="M230.92 301.8L232.12 304.05L229.72 304.05Z" fill="#1a1a1a"/>
<path d="M234.82 316.8L236.02 319.05L233.62 319.05Z" fill="#1a1a1a"/>
<path d="M238.71 323.05L239.91 325.3L237.51 325.3Z" fill="#1a1a1a"/>
<path d="M242.61 320.55L243.81 322.8L241.41 322.8Z" fill="#1a1a1a"/>
<path d="M246.5 330.55L247.7 332.8L245.3 332.8Z" fill="#1a1a1a"/>
<path d="M164.7 333.8L172.49 332.3L180.28 325.55L188.07 331.8L191.97 330.55L195.86 306.8L199.76 305.55L203.65 295.55L207.55 294.3L211.45 285.55L215.34 300.55L219.24 299.3L223.13 305.55L227.03 310.55L230.92 316.8L234.82 320.55L238.71 325.55L242.61 321.3L246.5 330.55" class="ln"/>
<path d="M195.86 306.8V310.8M199.76 305.55V309.55M203.65 277.55V295.55M207.55 294.3V300.3M211.45 285.55V295.55M215.34 300.55V304.55M219.24 299.3V303.3" class="eb"/>
<rect x="163.7" y="332.8" width="2" height="2" fill="#1a1a1a"/>
<rect x="171.49" y="331.3" width="2" height="2" fill="#1a1a1a"/>
<rect x="179.28" y="324.55" width="2" height="2" fill="#1a1a1a"/>
<rect x="187.07" y="330.8" width="2" height="2" fill="#1a1a1a"/>
<rect x="190.97" y="329.55" width="2" height="2" fill="#1a1a1a"/>
<rect x="194.86" y="305.8" width="2" height="2" fill="#1a1a1a"/>
<rect x="198.76" y="304.55" width="2" height="2" fill="#1a1a1a"/>
<rect x="202.65" y="294.55" width="2" height="2" fill="#1a1a1a"/>
<rect x="206.55" y="293.3" width="2" height="2" fill="#1a1a1a"/>
<rect x="210.45" y="284.55" width="2" height="2" fill="#1a1a1a"/>
<rect x="214.34" y="299.55" width="2" height="2" fill="#1a1a1a"/>
<rect x="218.24" y="298.3" width="2" height="2" fill="#1a1a1a"/>
<rect x="222.13" y="304.55" width="2" height="2" fill="#1a1a1a"/>
<rect x="226.03" y="309.55" width="2" height="2" fill="#1a1a1a"/>
<rect x="229.92" y="315.8" width="2" height="2" fill="#1a1a1a"/>
<rect x="233.82" y="319.55" width="2" height="2" fill="#1a1a1a"/>
<rect x="237.71" y="324.55" width="2" height="2" fill="#1a1a1a"/>
<rect x="241.61" y="320.3" width="2" height="2" fill="#1a1a1a"/>
<rect x="245.5" y="329.55" width="2" height="2" fill="#1a1a1a"/>
<path d="M164.7 333.05L172.49 329.3L180.28 323.8L188.07 330.05L191.97 329.3L195.86 326.8L199.76 323.05L203.65 310.55L207.55 316.8L211.45 321.8L215.34 325.55L219.24 318.05L223.13 315.55L227.03 323.05L230.92 326.3L234.82 323.8L238.71 329.3L242.61 322.3L246.5 331.3L250.4 327.3" class="ln"/>
<path d="M188.07 328.05V332.05M195.86 322.8V330.8M199.76 323.05V327.05M207.55 316.8V320.8M211.45 321.8V326.8M215.34 325.55V328.55M223.13 315.55V320.55M230.92 326.3V331.3M238.71 329.3V332.3M242.61 320.3V324.3M246.5 331.3V333.3" class="eb"/>
<circle cx="164.7" cy="333.05" r="0.9" fill="#fff" stroke="#1a1a1a" stroke-width=".55"/>
<circle cx="172.49" cy="329.3" r="0.9" fill="#fff" stroke="#1a1a1a" stroke-width=".55"/>
<circle cx="180.28" cy="323.8" r="0.9" fill="#fff" stroke="#1a1a1a" stroke-width=".55"/>
<circle cx="188.07" cy="330.05" r="0.9" fill="#fff" stroke="#1a1a1a" stroke-width=".55"/>
<circle cx="191.97" cy="329.3" r="0.9" fill="#fff" stroke="#1a1a1a" stroke-width=".55"/>
<circle cx="195.86" cy="326.8" r="0.9" fill="#fff" stroke="#1a1a1a" stroke-width=".55"/>
<circle cx="199.76" cy="323.05" r="0.9" fill="#fff" stroke="#1a1a1a" stroke-width=".55"/>
<circle cx="203.65" cy="310.55" r="0.9" fill="#fff" stroke="#1a1a1a" stroke-width=".55"/>
<circle cx="207.55" cy="316.8" r="0.9" fill="#fff" stroke="#1a1a1a" stroke-width=".55"/>
<circle cx="211.45" cy="321.8" r="0.9" fill="#fff" stroke="#1a1a1a" stroke-width=".55"/>
<circle cx="215.34" cy="325.55" r="0.9" fill="#fff" stroke="#1a1a1a" stroke-width=".55"/>
<circle cx="219.24" cy="318.05" r="0.9" fill="#fff" stroke="#1a1a1a" stroke-width=".55"/>
<circle cx="223.13" cy="315.55" r="0.9" fill="#fff" stroke="#1a1a1a" stroke-width=".55"/>
<circle cx="227.03" cy="323.05" r="0.9" fill="#fff" stroke="#1a1a1a" stroke-width=".55"/>
<circle cx="230.92" cy="326.3" r="0.9" fill="#fff" stroke="#1a1a1a" stroke-width=".55"/>
<circle cx="234.82" cy="323.8" r="0.9" fill="#fff" stroke="#1a1a1a" stroke-width=".55"/>
<circle cx="238.71" cy="329.3" r="0.9" fill="#fff" stroke="#1a1a1a" stroke-width=".55"/>
<circle cx="242.61" cy="322.3" r="0.9" fill="#fff" stroke="#1a1a1a" stroke-width=".55"/>
<circle cx="246.5" cy="331.3" r="0.9" fill="#fff" stroke="#1a1a1a" stroke-width=".55"/>
<circle cx="250.4" cy="327.3" r="0.9" fill="#fff" stroke="#1a1a1a" stroke-width=".55"/>
</g>
<g id="p7">
<path d="M289.5 255.8V336.3M288 255.8H289.5M288 275.9H289.5M288 296.05H289.5M288 316.2H289.5M288 336.3H289.5" class="ax"/>
<text x="287.7" y="257.7" font-size="4.6" text-anchor="end" textLength="6.9" lengthAdjust="spacingAndGlyphs">200</text>
<text x="287.7" y="277.8" font-size="4.6" text-anchor="end" textLength="6.9" lengthAdjust="spacingAndGlyphs">150</text>
<text x="287.7" y="297.95" font-size="4.6" text-anchor="end" textLength="6.9" lengthAdjust="spacingAndGlyphs">100</text>
<text x="287.7" y="318.1" font-size="4.6" text-anchor="end" textLength="4.6" lengthAdjust="spacingAndGlyphs">50</text>
<text x="287.7" y="338.9" font-size="4.6" text-anchor="end" textLength="2.3" lengthAdjust="spacingAndGlyphs">0</text>
<path d="M295.1 345.3H381.9M295.1 345.3v1.1M301.78 345.3v1.1M308.45 345.3v1.1M315.13 345.3v1.1M321.81 345.3v1.1M328.48 345.3v1.1M335.16 345.3v1.1M341.84 345.3v1.1M348.52 345.3v1.1M355.19 345.3v1.1M361.87 345.3v1.1M368.55 345.3v1.1M375.22 345.3v1.1M381.9 345.3v1.1" class="ax"/>
<text x="295.6" y="351.7" font-size="4.6" text-anchor="middle" textLength="3.85" lengthAdjust="spacingAndGlyphs">-6</text>
<text x="302.28" y="351.7" font-size="4.6" text-anchor="middle" textLength="3.85" lengthAdjust="spacingAndGlyphs">-4</text>
<text x="308.95" y="351.7" font-size="4.6" text-anchor="middle" textLength="3.85" lengthAdjust="spacingAndGlyphs">-2</text>
<text x="315.33" y="351.7" font-size="4.6" text-anchor="middle">0</text>
<text x="322.01" y="351.7" font-size="4.6" text-anchor="middle">2</text>
<text x="328.68" y="351.7" font-size="4.6" text-anchor="middle">4</text>
<text x="335.36" y="351.7" font-size="4.6" text-anchor="middle">6</text>
<text x="342.04" y="351.7" font-size="4.6" text-anchor="middle">8</text>
<text x="348.72" y="351.7" font-size="4.6" text-anchor="middle" textLength="4.7" lengthAdjust="spacingAndGlyphs">10</text>
<text x="355.39" y="351.7" font-size="4.6" text-anchor="middle" textLength="4.7" lengthAdjust="spacingAndGlyphs">12</text>
<text x="362.07" y="351.7" font-size="4.6" text-anchor="middle" textLength="4.7" lengthAdjust="spacingAndGlyphs">14</text>
<text x="368.75" y="351.7" font-size="4.6" text-anchor="middle" textLength="4.7" lengthAdjust="spacingAndGlyphs">16</text>
<text x="375.42" y="351.7" font-size="4.6" text-anchor="middle" textLength="4.7" lengthAdjust="spacingAndGlyphs">18</text>
<text x="382.1" y="351.7" font-size="4.6" text-anchor="middle" textLength="4.7" lengthAdjust="spacingAndGlyphs">20</text>
<text x="339.1" y="356.5" font-size="4.6" text-anchor="middle" textLength="9.8" lengthAdjust="spacingAndGlyphs">Days</text>
<text x="273.2" y="308.6" font-size="4.6" text-anchor="start" transform="rotate(-90 273.2 308.6)" textLength="24.6" lengthAdjust="spacingAndGlyphs">IL-4 (pg/ml)</text>
<text x="305.75" y="247.2" font-size="4.6" text-anchor="start" transform="rotate(-90 305.75 247.2)" textLength="31" lengthAdjust="spacingAndGlyphs">Chemotherapy</text>
<path d="M299.5 251.55Q301.1 250.65 303.5 250.65H305.2Q307.6 250.65 309.2 251.55" class="br"/>
<text x="317.25" y="247.2" font-size="5.1" text-anchor="start" transform="rotate(-90 317.25 247.2)" textLength="6.4" lengthAdjust="spacingAndGlyphs">SCT</text>
<path d="M315.4 248.4V250.4" class="ax"/><path d="M314.5 249.2L315.4 250.7L316.3 249.2Z" fill="#1a1a1a"/>
<text x="324.2" y="244" font-size="4.6" text-anchor="start" textLength="26.6" lengthAdjust="spacingAndGlyphs">GM-CSF/Epo</text>
<text x="325.7" y="248.6" font-size="4.6" text-anchor="start" textLength="23.1" lengthAdjust="spacingAndGlyphs">G-CSF/Epo</text>
<path d="M319 252.05Q320.6 251.15 323 251.15H351.8Q354.2 251.15 355.8 252.05" class="br"/>
<path d="M295.1 335.55L301.78 334.3L308.45 334.3L315.13 334.3L321.81 334.3L325.15 335.3L328.48 336.3L331.82 335.3L335.16 333.8L338.5 289.3L341.84 306.8L345.18 294.3L348.52 280.55L351.85 308.05L355.19 328.05L358.53 333.05L361.87 331.8L365.21 333.05L368.55 335.55" class="ln"/>
<path d="M301.78 332.3V336.3M338.5 274.3V289.3M348.52 266.55V280.55M351.85 298.05V318.05" class="eb"/>
<circle cx="295.1" cy="335.55" r="0.9" fill="#fff" stroke="#1a1a1a" stroke-width=".55"/>
<circle cx="301.78" cy="334.3" r="0.9" fill="#fff" stroke="#1a1a1a" stroke-width=".55"/>
<circle cx="308.45" cy="334.3" r="0.9" fill="#fff" stroke="#1a1a1a" stroke-width=".55"/>
<circle cx="315.13" cy="334.3" r="0.9" fill="#fff" stroke="#1a1a1a" stroke-width=".55"/>
<circle cx="321.81" cy="334.3" r="0.9" fill="#fff" stroke="#1a1a1a" stroke-width=".55"/>
<circle cx="325.15" cy="335.3" r="0.9" fill="#fff" stroke="#1a1a1a" stroke-width=".55"/>
<circle cx="328.48" cy="336.3" r="0.9" fill="#fff" stroke="#1a1a1a" stroke-width=".55"/>
<circle cx="331.82" cy="335.3" r="0.9" fill="#fff" stroke="#1a1a1a" stroke-width=".55"/>
<circle cx="335.16" cy="333.8" r="0.9" fill="#fff" stroke="#1a1a1a" stroke-width=".55"/>
<circle cx="338.5" cy="289.3" r="0.9" fill="#fff" stroke="#1a1a1a" stroke-width=".55"/>
<circle cx="341.84" cy="306.8" r="0.9" fill="#fff" stroke="#1a1a1a" stroke-width=".55"/>
<circle cx="345.18" cy="294.3" r="0.9" fill="#fff" stroke="#1a1a1a" stroke-width=".55"/>
<circle cx="348.52" cy="280.55" r="0.9" fill="#fff" stroke="#1a1a1a" stroke-width=".55"/>
<circle cx="351.85" cy="308.05" r="0.9" fill="#fff" stroke="#1a1a1a" stroke-width=".55"/>
<circle cx="355.19" cy="328.05" r="0.9" fill="#fff" stroke="#1a1a1a" stroke-width=".55"/>
<circle cx="358.53" cy="333.05" r="0.9" fill="#fff" stroke="#1a1a1a" stroke-width=".55"/>
<circle cx="361.87" cy="331.8" r="0.9" fill="#fff" stroke="#1a1a1a" stroke-width=".55"/>
<circle cx="365.21" cy="333.05" r="0.9" fill="#fff" stroke="#1a1a1a" stroke-width=".55"/>
<circle cx="368.55" cy="335.55" r="0.9" fill="#fff" stroke="#1a1a1a" stroke-width=".55"/>
<path d="M301.78 334.8L315.13 334.3L321.81 333.8L325.15 330.55L328.48 325.55L331.82 320.55L335.16 314.3L338.5 298.05L341.84 300.55L345.18 309.3L348.52 318.05L351.85 323.05L355.19 328.05L358.53 333.8L361.87 333.3L365.21 333.3" class="ln"/>
<path d="M315.13 332.3V336.3M321.81 331.8V335.8M328.48 321.55V325.55M331.82 320.55V325.55M335.16 309.3V314.3M358.53 331.8V335.8M361.87 331.3V335.3M365.21 331.3V335.3" class="eb"/>
<rect x="300.78" y="333.8" width="2" height="2" fill="#1a1a1a"/>
<rect x="314.13" y="333.3" width="2" height="2" fill="#1a1a1a"/>
<rect x="320.81" y="332.8" width="2" height="2" fill="#1a1a1a"/>
<rect x="324.15" y="329.55" width="2" height="2" fill="#1a1a1a"/>
<rect x="327.48" y="324.55" width="2" height="2" fill="#1a1a1a"/>
<rect x="330.82" y="319.55" width="2" height="2" fill="#1a1a1a"/>
<rect x="334.16" y="313.3" width="2" height="2" fill="#1a1a1a"/>
<rect x="337.5" y="297.05" width="2" height="2" fill="#1a1a1a"/>
<rect x="340.84" y="299.55" width="2" height="2" fill="#1a1a1a"/>
<rect x="344.18" y="308.3" width="2" height="2" fill="#1a1a1a"/>
<rect x="347.52" y="317.05" width="2" height="2" fill="#1a1a1a"/>
<rect x="350.85" y="322.05" width="2" height="2" fill="#1a1a1a"/>
<rect x="354.19" y="327.05" width="2" height="2" fill="#1a1a1a"/>
<rect x="357.53" y="332.8" width="2" height="2" fill="#1a1a1a"/>
<rect x="360.87" y="332.3" width="2" height="2" fill="#1a1a1a"/>
<rect x="364.21" y="332.3" width="2" height="2" fill="#1a1a1a"/>
<path d="M301.78 334.5L315.13 334.8L321.81 333.8L325.15 331.3L328.48 324.8L331.82 323.05L335.16 318.05L338.5 316.8L341.84 320.55L345.18 326.8L348.52 326.8L351.85 333.05L355.19 333.3L358.53 333.6L361.87 333.5L365.21 333.5" class="ln"/>
<path d="M331.82 323.05V328.05M335.16 312.05V324.05M338.5 310.8V322.8M341.84 315.55V325.55M345.18 326.8V331.8M348.52 326.8V331.8" class="eb"/>
<path d="M301.78 333.25L302.98 335.5L300.58 335.5Z" fill="#1a1a1a"/>
<path d="M315.13 333.55L316.33 335.8L313.93 335.8Z" fill="#1a1a1a"/>
<path d="M321.81 332.55L323.01 334.8L320.61 334.8Z" fill="#1a1a1a"/>
<path d="M325.15 330.05L326.35 332.3L323.95 332.3Z" fill="#1a1a1a"/>
<path d="M328.48 323.55L329.68 325.8L327.28 325.8Z" fill="#1a1a1a"/>
<path d="M331.82 321.8L333.02 324.05L330.62 324.05Z" fill="#1a1a1a"/>
<path d="M335.16 316.8L336.36 319.05L333.96 319.05Z" fill="#1a1a1a"/>
<path d="M338.5 315.55L339.7 317.8L337.3 317.8Z" fill="#1a1a1a"/>
<path d="M341.84 319.3L343.04 321.55L340.64 321.55Z" fill="#1a1a1a"/>
<path d="M345.18 325.55L346.38 327.8L343.98 327.8Z" fill="#1a1a1a"/>
<path d="M348.52 325.55L349.72 327.8L347.32 327.8Z" fill="#1a1a1a"/>
<path d="M351.85 331.8L353.05 334.05L350.65 334.05Z" fill="#1a1a1a"/>
<path d="M355.19 332.05L356.39 334.3L353.99 334.3Z" fill="#1a1a1a"/>
<path d="M358.53 332.35L359.73 334.6L357.33 334.6Z" fill="#1a1a1a"/>
<path d="M361.87 332.25L363.07 334.5L360.67 334.5Z" fill="#1a1a1a"/>
<path d="M365.21 332.25L366.41 334.5L364.01 334.5Z" fill="#1a1a1a"/>
</g>
<g id="p8">
<path d="M421.7 256V336.8M420.2 256H421.7M420.2 276.2H421.7M420.2 296.4H421.7M420.2 316.6H421.7M420.2 336.8H421.7" class="ax"/>
<text x="419.9" y="257.9" font-size="4.6" text-anchor="end" textLength="6.9" lengthAdjust="spacingAndGlyphs">200</text>
<text x="419.9" y="278.1" font-size="4.6" text-anchor="end" textLength="6.9" lengthAdjust="spacingAndGlyphs">150</text>
<text x="419.9" y="298.3" font-size="4.6" text-anchor="end" textLength="6.9" lengthAdjust="spacingAndGlyphs">100</text>
<text x="419.9" y="318.5" font-size="4.6" text-anchor="end" textLength="4.6" lengthAdjust="spacingAndGlyphs">50</text>
<text x="419.9" y="339.4" font-size="4.6" text-anchor="end" textLength="2.3" lengthAdjust="spacingAndGlyphs">0</text>
<path d="M430.3 345.4H514.9M430.3 345.4v1.1M436.81 345.4v1.1M443.32 345.4v1.1M449.82 345.4v1.1M456.33 345.4v1.1M462.84 345.4v1.1M469.35 345.4v1.1M475.85 345.4v1.1M482.36 345.4v1.1M488.87 345.4v1.1M495.38 345.4v1.1M501.88 345.4v1.1M508.39 345.4v1.1M514.9 345.4v1.1" class="ax"/>
<text x="430.8" y="351.7" font-size="4.6" text-anchor="middle" textLength="3.85" lengthAdjust="spacingAndGlyphs">-6</text>
<text x="437.31" y="351.7" font-size="4.6" text-anchor="middle" textLength="3.85" lengthAdjust="spacingAndGlyphs">-4</text>
<text x="443.82" y="351.7" font-size="4.6" text-anchor="middle" textLength="3.85" lengthAdjust="spacingAndGlyphs">-2</text>
<text x="450.02" y="351.7" font-size="4.6" text-anchor="middle">0</text>
<text x="456.53" y="351.7" font-size="4.6" text-anchor="middle">2</text>
<text x="463.04" y="351.7" font-size="4.6" text-anchor="middle">4</text>
<text x="469.55" y="351.7" font-size="4.6" text-anchor="middle">6</text>
<text x="476.05" y="351.7" font-size="4.6" text-anchor="middle">8</text>
<text x="482.56" y="351.7" font-size="4.6" text-anchor="middle" textLength="4.7" lengthAdjust="spacingAndGlyphs">10</text>
<text x="489.07" y="351.7" font-size="4.6" text-anchor="middle" textLength="4.7" lengthAdjust="spacingAndGlyphs">12</text>
<text x="495.58" y="351.7" font-size="4.6" text-anchor="middle" textLength="4.7" lengthAdjust="spacingAndGlyphs">14</text>
<text x="502.08" y="351.7" font-size="4.6" text-anchor="middle" textLength="4.7" lengthAdjust="spacingAndGlyphs">16</text>
<text x="508.59" y="351.7" font-size="4.6" text-anchor="middle" textLength="4.7" lengthAdjust="spacingAndGlyphs">18</text>
<text x="515.1" y="351.7" font-size="4.6" text-anchor="middle" textLength="4.7" lengthAdjust="spacingAndGlyphs">20</text>
<text x="473.1" y="356.6" font-size="4.6" text-anchor="middle" textLength="9.8" lengthAdjust="spacingAndGlyphs">Days</text>
<text x="406.7" y="335.4" font-size="4.6" text-anchor="start" transform="rotate(-90 406.7 335.4)" textLength="76.4" lengthAdjust="spacingAndGlyphs">No. of Eosinophils (Cells x 10<tspan dy="-0.9" font-size="3.9">3</tspan><tspan dy="0.9">/mm<tspan dy="-0.9" font-size="3.9">3</tspan></tspan>)</text>
<text x="439.85" y="247.7" font-size="4.6" text-anchor="start" transform="rotate(-90 439.85 247.7)" textLength="31.9" lengthAdjust="spacingAndGlyphs">Chemotherapy</text>
<path d="M433.5 251.55Q435.1 250.65 437.5 250.65H439.5Q441.9 250.65 443.5 251.55" class="br"/>
<text x="451.35" y="248.3" font-size="5.1" text-anchor="start" transform="rotate(-90 451.35 248.3)" textLength="5.5" lengthAdjust="spacingAndGlyphs">SCT</text>
<path d="M449.5 249.5V250.8" class="ax"/><path d="M448.6 249.6L449.5 251.1L450.4 249.6Z" fill="#1a1a1a"/>
<text x="458" y="244" font-size="4.6" text-anchor="start" textLength="26.2" lengthAdjust="spacingAndGlyphs">GM-CSF/Epo</text>
<text x="459.6" y="248.6" font-size="4.6" text-anchor="start" textLength="23.1" lengthAdjust="spacingAndGlyphs">G-CSF/Epo</text>
<path d="M453.5 252.05Q455.1 251.15 457.5 251.15H485.3Q487.7 251.15 489.3 252.05" class="br"/>
<path d="M436.81 276.3L449.82 293.05L453.08 313.05L456.33 321.8L459.58 325.55L462.84 329.3L466.09 334.3L469.35 335.3L472.6 335.8L475.85 333.8L479.11 328.05L482.36 311.8L485.62 308.8L488.87 305.55L492.12 309.3L501.88 311.8" class="ln"/>
<path d="M436.81 264.3V276.3M449.82 281.05V293.05M453.08 305.05V321.05M456.33 315.8V327.8M459.58 320.55V330.55M479.11 325.05V331.05M482.36 303.8V311.8M485.62 300.8V308.8M488.87 296.55V305.55" class="eb"/>
<rect x="435.81" y="275.3" width="2" height="2" fill="#1a1a1a"/>
<rect x="448.82" y="292.05" width="2" height="2" fill="#1a1a1a"/>
<rect x="452.08" y="312.05" width="2" height="2" fill="#1a1a1a"/>
<rect x="455.33" y="320.8" width="2" height="2" fill="#1a1a1a"/>
<rect x="458.58" y="324.55" width="2" height="2" fill="#1a1a1a"/>
<rect x="461.84" y="328.3" width="2" height="2" fill="#1a1a1a"/>
<rect x="465.09" y="333.3" width="2" height="2" fill="#1a1a1a"/>
<rect x="468.35" y="334.3" width="2" height="2" fill="#1a1a1a"/>
<rect x="471.6" y="334.8" width="2" height="2" fill="#1a1a1a"/>
<rect x="474.85" y="332.8" width="2" height="2" fill="#1a1a1a"/>
<rect x="478.11" y="327.05" width="2" height="2" fill="#1a1a1a"/>
<rect x="481.36" y="310.8" width="2" height="2" fill="#1a1a1a"/>
<rect x="484.62" y="307.8" width="2" height="2" fill="#1a1a1a"/>
<rect x="487.87" y="304.55" width="2" height="2" fill="#1a1a1a"/>
<rect x="491.12" y="308.3" width="2" height="2" fill="#1a1a1a"/>
<rect x="500.88" y="310.8" width="2" height="2" fill="#1a1a1a"/>
<path d="M436.81 281.8L449.82 309.3L453.08 315.55L456.33 323.05L459.58 326.8L462.84 333.05L466.09 335.3L472.6 335.6L479.11 335.3L482.36 333.05L485.62 319.3L488.87 314.3L492.12 310.55L501.88 315.55" class="ln"/>
<path d="M449.82 309.3V317.3M453.08 315.55V323.55M456.33 323.05V329.05M459.58 326.8V331.8M501.88 315.55V322.55" class="eb"/>
<path d="M436.81 280.55L438.01 282.8L435.61 282.8Z" fill="#1a1a1a"/>
<path d="M449.82 308.05L451.02 310.3L448.62 310.3Z" fill="#1a1a1a"/>
<path d="M453.08 314.3L454.28 316.55L451.88 316.55Z" fill="#1a1a1a"/>
<path d="M456.33 321.8L457.53 324.05L455.13 324.05Z" fill="#1a1a1a"/>
<path d="M459.58 325.55L460.78 327.8L458.38 327.8Z" fill="#1a1a1a"/>
<path d="M462.84 331.8L464.04 334.05L461.64 334.05Z" fill="#1a1a1a"/>
<path d="M466.09 334.05L467.29 336.3L464.89 336.3Z" fill="#1a1a1a"/>
<path d="M472.6 334.35L473.8 336.6L471.4 336.6Z" fill="#1a1a1a"/>
<path d="M479.11 334.05L480.31 336.3L477.91 336.3Z" fill="#1a1a1a"/>
<path d="M482.36 331.8L483.56 334.05L481.16 334.05Z" fill="#1a1a1a"/>
<path d="M485.62 318.05L486.82 320.3L484.42 320.3Z" fill="#1a1a1a"/>
<path d="M488.87 313.05L490.07 315.3L487.67 315.3Z" fill="#1a1a1a"/>
<path d="M492.12 309.3L493.32 311.55L490.92 311.55Z" fill="#1a1a1a"/>
<path d="M501.88 314.3L503.08 316.55L500.68 316.55Z" fill="#1a1a1a"/>
<path d="M436.81 288.05L449.82 313.05L453.08 321.8L456.33 328.05L459.58 334.3L462.84 335.3L472.6 335.8L482.36 335.6L485.62 334.8L488.87 326.8L492.12 310.55L495.38 293.05L501.88 309.3" class="ln"/>
<path d="M436.81 288.05V297.05M449.82 313.05V318.05M453.08 321.8V326.8M456.33 328.05V333.05M495.38 276.05V293.05M501.88 295.3V309.3" class="eb"/>
<circle cx="436.81" cy="288.05" r="0.9" fill="#fff" stroke="#1a1a1a" stroke-width=".55"/>
<circle cx="449.82" cy="313.05" r="0.9" fill="#fff" stroke="#1a1a1a" stroke-width=".55"/>
<circle cx="453.08" cy="321.8" r="0.9" fill="#fff" stroke="#1a1a1a" stroke-width=".55"/>
<circle cx="456.33" cy="328.05" r="0.9" fill="#fff" stroke="#1a1a1a" stroke-width=".55"/>
<circle cx="459.58" cy="334.3" r="0.9" fill="#fff" stroke="#1a1a1a" stroke-width=".55"/>
<circle cx="462.84" cy="335.3" r="0.9" fill="#fff" stroke="#1a1a1a" stroke-width=".55"/>
<circle cx="472.6" cy="335.8" r="0.9" fill="#fff" stroke="#1a1a1a" stroke-width=".55"/>
<circle cx="482.36" cy="335.6" r="0.9" fill="#fff" stroke="#1a1a1a" stroke-width=".55"/>
<circle cx="485.62" cy="334.8" r="0.9" fill="#fff" stroke="#1a1a1a" stroke-width=".55"/>
<circle cx="488.87" cy="326.8" r="0.9" fill="#fff" stroke="#1a1a1a" stroke-width=".55"/>
<circle cx="492.12" cy="310.55" r="0.9" fill="#fff" stroke="#1a1a1a" stroke-width=".55"/>
<circle cx="495.38" cy="293.05" r="0.9" fill="#fff" stroke="#1a1a1a" stroke-width=".55"/>
<circle cx="501.88" cy="309.3" r="0.9" fill="#fff" stroke="#1a1a1a" stroke-width=".55"/>
</g>
</svg></body></html>
